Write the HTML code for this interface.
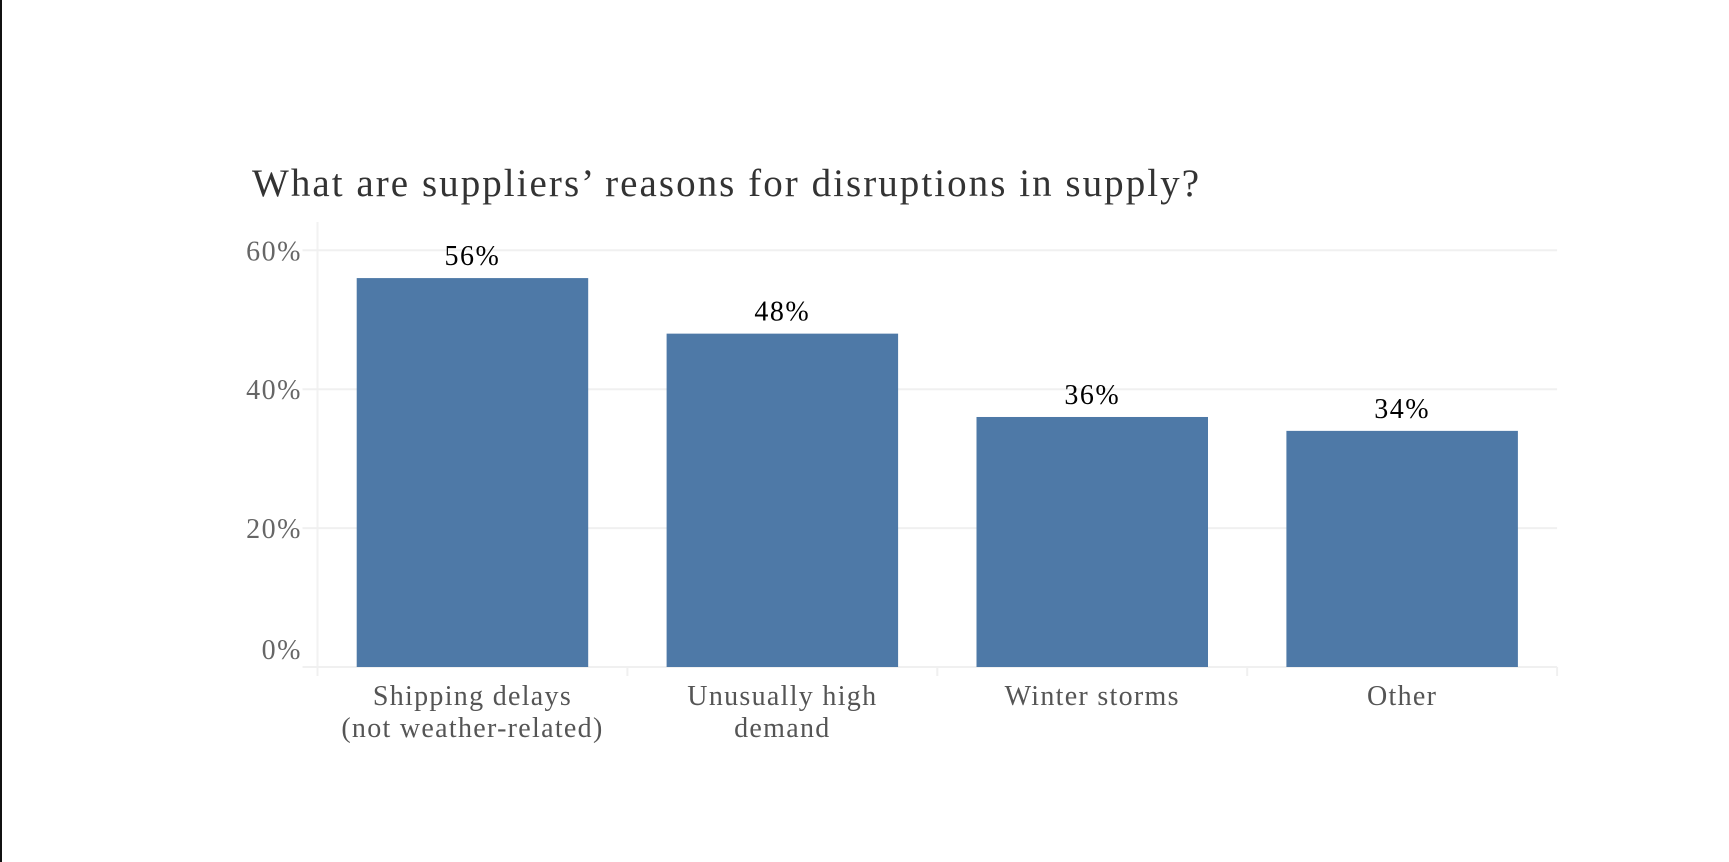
<!DOCTYPE html>
<html><head><meta charset="utf-8"><style>
html,body{margin:0;padding:0;background:#fff;}
svg{display:block;}
text{font-family:"Liberation Serif",serif;}
</style></head><body>
<svg id="chart" width="1729" height="862" viewBox="0 0 1729 862">
<rect x="0" y="0" width="2" height="862" fill="#111"/>
<text x="252" y="196" font-size="39" fill="#333" textLength="947" lengthAdjust="spacing">What are suppliers’ reasons for disruptions in supply?</text>
<g id="grid"></g><g id="bars"></g><g id="labels"></g>
</svg>
<script>
const categories = [["Shipping delays","(not weather-related)"],["Unusually high","demand"],["Winter storms"],["Other"]];
const values = [56, 48, 36, 34];
const valueLabels = ["56%","48%","36%","34%"];
const ticks = [0, 20, 40, 60];
const tickLabels = ["0%","20%","40%","60%"];

const NS="http://www.w3.org/2000/svg";
const x0=317.5, band=309.9, y0=667, yPer=(667-250.3)/60, barFrac=0.747;
const y=v=>y0-v*yPer;
const xc=i=>x0+band*(i+0.5);
function mk(tag,attrs,parent,txt){const e=document.createElementNS(NS,tag);for(const k in attrs)e.setAttribute(k,attrs[k]);if(txt!=null)e.textContent=txt;parent.appendChild(e);return e;}
const grid=document.getElementById('grid'), bars=document.getElementById('bars'), labels=document.getElementById('labels');
const xEnd=x0+band*categories.length;
let vl=mk('line',{x1:x0,x2:x0,y1:222,y2:672,stroke:'#f2f2f2','stroke-width':2},grid);


ticks.forEach((t,i)=>{
  const g=mk('line',{x1:x0-15,x2:xEnd,y1:y(t),y2:y(t),stroke:'#f0f0f0','stroke-width':2},grid);
  
  
  const ty = t===0 ? y(t)-8 : y(t)+10;
  const tl=mk('text',{x:302,y:ty,'text-anchor':'end','font-size':28,'letter-spacing':1.5,fill:'#666'},labels,tickLabels[i]);
  
  
});
for(let i=0;i<=categories.length;i++){
  const tk=mk('line',{x1:x0+band*i,x2:x0+band*i,y1:y0,y2:y0+9,stroke:'#f0f0f0','stroke-width':2},grid);
  
  
}
values.forEach((v,i)=>{
  const w=band*barFrac;
  const b=mk('rect',{x:xc(i)-w/2,y:y(v),width:w,height:y0-y(v),fill:'#4e79a7'},bars);
  
  
  const vt=mk('text',{x:xc(i),y:y(v)-13,'text-anchor':'middle','font-size':28,'letter-spacing':1.5,fill:'#000'},labels,valueLabels[i]);
  
  
  categories[i].forEach((line,j)=>{
    const ct=mk('text',{x:xc(i),y:705+j*32,'text-anchor':'middle','font-size':28,'letter-spacing':1.3,fill:'#555'},labels,line);
    
    
  });
});
</script>
</body></html>
